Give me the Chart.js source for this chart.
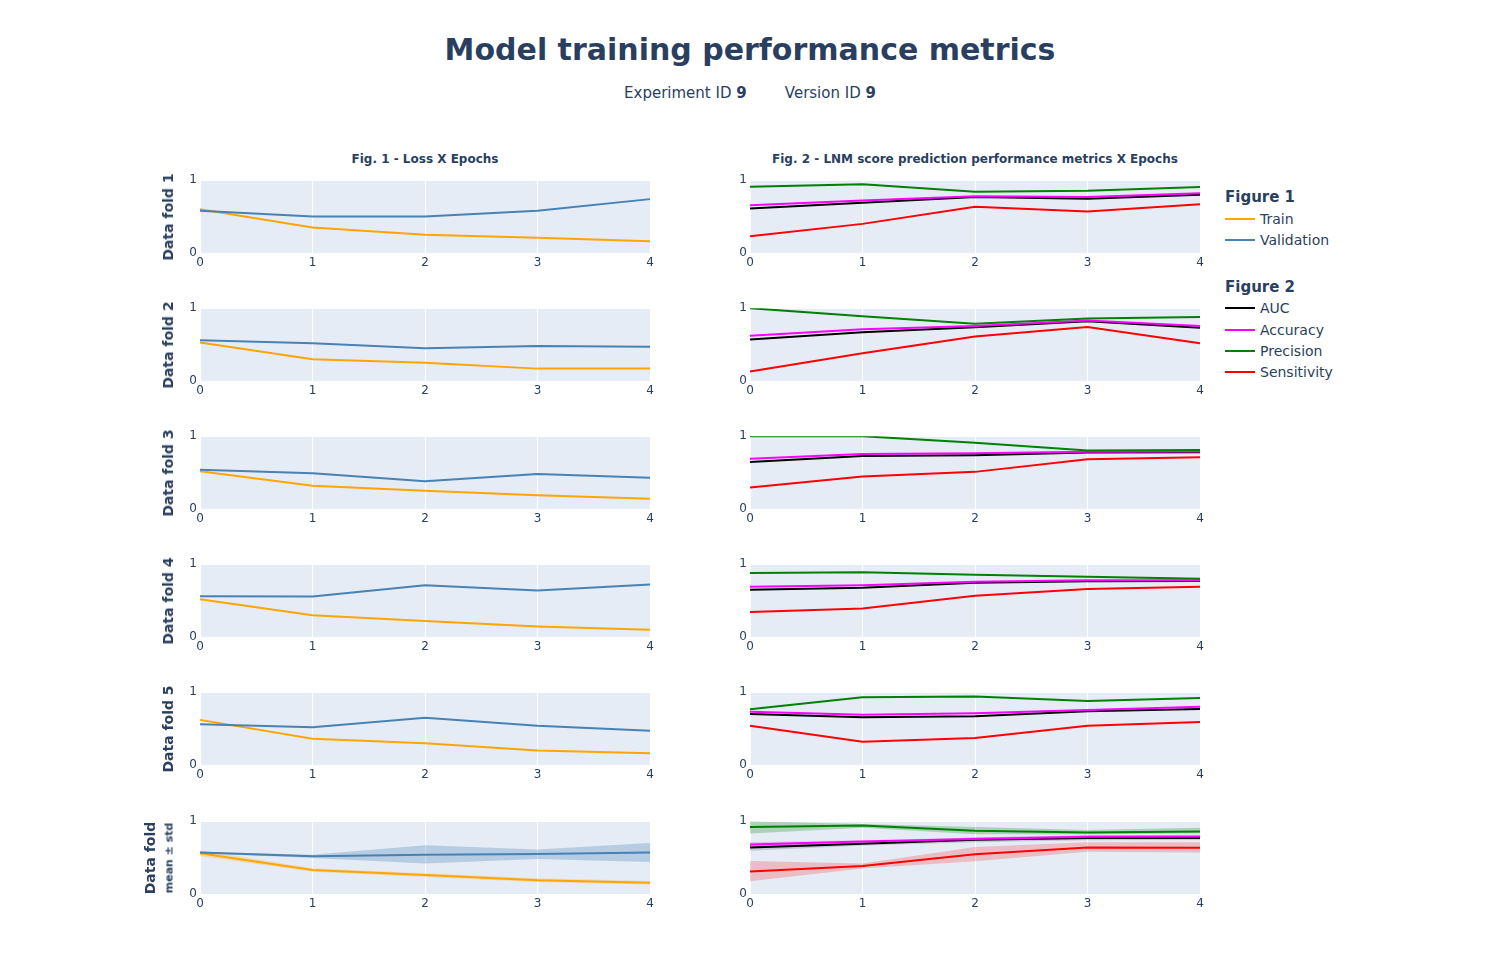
<!DOCTYPE html>
<html>
<head>
<meta charset="utf-8">
<script src="https://cdn.jsdelivr.net/npm/chart.js@4.4.1/dist/chart.umd.min.js"></script>
<style>
body { margin: 0; background: #fff; font-family: "DejaVu Sans", Verdana, sans-serif; color: #2a3f5f; }
#page { position: relative; width: 1500px; height: 975px; overflow: hidden; }
.abs { position: absolute; white-space: nowrap; }
.title { left: 0; width: 1500px; top: 32px; text-align: center; font-size: 30px; font-weight: bold; }
.subtitle { left: 0; width: 1500px; top: 84px; text-align: center; font-size: 15px; }
.coltitle { font-size: 12px; font-weight: bold; text-align: center; width: 450px; top: 152px; }
.ytitle { font-size: 14px; font-weight: bold; transform: translate(-50%, -50%) rotate(-90deg); }
.ysub { font-size: 11px; font-weight: bold; transform: translate(-50%, -50%) rotate(-90deg); }
.leghead { font-size: 15px; font-weight: bold; left: 1225px; }
.legitem { font-size: 14px; left: 1260px; }
.legline { position: absolute; left: 1225px; width: 30px; height: 2px; }
canvas { position: absolute; }
</style>
</head>
<body>
<div id="page">
  <div class="abs title">Model training performance metrics</div>
  <div class="abs subtitle">Experiment ID <b>9</b>&nbsp;&nbsp;&nbsp;&nbsp;&nbsp;&nbsp;&nbsp;&nbsp;Version ID <b>9</b></div>
  <div class="abs coltitle" style="left:200px">Fig. 1 - Loss X Epochs</div>
  <div class="abs coltitle" style="left:750px">Fig. 2 - LNM score prediction performance metrics X Epochs</div>
</div>

<script>
var epochs = ['0', '1', '2', '3', '4'];
var foldNames = ['Data fold 1', 'Data fold 2', 'Data fold 3', 'Data fold 4', 'Data fold 5'];

// Fig. 1 - loss per fold
var trainLoss = [
  [0.60, 0.35, 0.25, 0.21, 0.16],
  [0.53, 0.30, 0.25, 0.17, 0.17],
  [0.52, 0.32, 0.25, 0.19, 0.14],
  [0.52, 0.30, 0.22, 0.145, 0.10],
  [0.62, 0.36, 0.30, 0.20, 0.16]
];
var validationLoss = [
  [0.58, 0.50, 0.50, 0.58, 0.74],
  [0.56, 0.52, 0.45, 0.48, 0.47],
  [0.54, 0.49, 0.38, 0.48, 0.43],
  [0.56, 0.555, 0.71, 0.64, 0.72],
  [0.56, 0.52, 0.65, 0.54, 0.47]
];
var trainMean  = [0.56, 0.33, 0.26, 0.19, 0.155];
var trainUpper = [0.60, 0.355, 0.285, 0.215, 0.18];
var trainLower = [0.52, 0.305, 0.235, 0.165, 0.13];
var validMean  = [0.57, 0.52, 0.54, 0.55, 0.57];
var validUpper = [0.58, 0.54, 0.67, 0.61, 0.70];
var validLower = [0.56, 0.495, 0.42, 0.48, 0.44];

// Fig. 2 - metrics per fold
var auc = [
  [0.61, 0.69, 0.77, 0.745, 0.80],
  [0.57, 0.67, 0.74, 0.82, 0.73],
  [0.645, 0.727, 0.737, 0.777, 0.78],
  [0.65, 0.675, 0.745, 0.765, 0.77],
  [0.70, 0.655, 0.67, 0.74, 0.77]
];
var accuracy = [
  [0.655, 0.72, 0.78, 0.77, 0.82],
  [0.62, 0.71, 0.755, 0.83, 0.755],
  [0.69, 0.755, 0.765, 0.785, 0.79],
  [0.69, 0.71, 0.76, 0.78, 0.78],
  [0.73, 0.69, 0.71, 0.755, 0.80]
];
var precision = [
  [0.91, 0.945, 0.84, 0.855, 0.905],
  [1.0, 0.89, 0.785, 0.86, 0.88],
  [1.0, 1.0, 0.91, 0.805, 0.81],
  [0.88, 0.89, 0.855, 0.827, 0.80],
  [0.765, 0.93, 0.94, 0.88, 0.92]
];
var sensitivity = [
  [0.23, 0.40, 0.635, 0.57, 0.67],
  [0.13, 0.38, 0.61, 0.74, 0.52],
  [0.295, 0.445, 0.51, 0.685, 0.71],
  [0.345, 0.39, 0.565, 0.66, 0.69],
  [0.54, 0.32, 0.37, 0.54, 0.59]
];
var aucMean  = [0.64, 0.69, 0.745, 0.77, 0.77];
var aucUpper = [0.685, 0.715, 0.78, 0.80, 0.795];
var aucLower = [0.595, 0.665, 0.71, 0.74, 0.745];
var accMean  = [0.68, 0.72, 0.755, 0.785, 0.79];
var accUpper = [0.715, 0.74, 0.775, 0.81, 0.81];
var accLower = [0.645, 0.70, 0.735, 0.76, 0.77];
var precMean  = [0.92, 0.94, 0.87, 0.845, 0.86];
var precUpper = [1.0, 0.96, 0.92, 0.88, 0.91];
var precLower = [0.83, 0.91, 0.82, 0.82, 0.83];
var sensMean  = [0.31, 0.385, 0.545, 0.64, 0.635];
var sensUpper = [0.455, 0.42, 0.645, 0.71, 0.71];
var sensLower = [0.175, 0.35, 0.45, 0.58, 0.57];

var COLORS = { train: '#FFA500', valid: '#4682B4', auc: '#000000', acc: '#FF00FF', prec: '#008000', sens: '#FF0000' };
var BANDS = { train: 'rgba(255,165,0,0.25)', valid: 'rgba(70,130,180,0.3)', auc: 'rgba(0,0,0,0.15)',
              acc: 'rgba(255,0,255,0.2)', prec: 'rgba(0,128,0,0.25)', sens: 'rgba(255,0,0,0.2)' };

var rowTops = [180, 308, 436, 564, 692, 821];
var colLefts = [200, 750];
var PLOT_W = 450, PLOT_H = 73;
var PAD_L = 40, PAD_T = 10, PAD_R = 14, PAD_B = 22;

var bgPlugin = {
  id: 'plotBg',
  beforeDraw: function(chart) {
    var a = chart.chartArea, c = chart.ctx;
    c.save();
    c.fillStyle = '#E5ECF6';
    c.fillRect(a.left, a.top, a.right - a.left, a.bottom - a.top);
    c.restore();
  }
};

function line(data, color, order) {
  return { data: data, borderColor: color, borderWidth: 2, pointRadius: 0, tension: 0, fill: false, order: order };
}
function band(upper, lower, color) {
  return [
    { data: upper, borderWidth: 0, borderColor: 'rgba(0,0,0,0)', pointRadius: 0, tension: 0, fill: '+1', backgroundColor: color, order: 100 },
    { data: lower, borderWidth: 0, borderColor: 'rgba(0,0,0,0)', pointRadius: 0, tension: 0, fill: false, order: 100 }
  ];
}

function makeChart(row, col, datasets) {
  var canvas = document.createElement('canvas');
  var w = PLOT_W + PAD_L + PAD_R, h = PLOT_H + PAD_T + PAD_B;
  canvas.width = w; canvas.height = h;
  canvas.style.width = w + 'px'; canvas.style.height = h + 'px';
  canvas.style.left = (colLefts[col] - PAD_L) + 'px';
  canvas.style.top = (rowTops[row] - PAD_T) + 'px';
  document.getElementById('page').appendChild(canvas);

  new Chart(canvas, {
    type: 'line',
    data: { labels: epochs, datasets: datasets },
    options: {
      responsive: false,
      animation: false,
      layout: { padding: { left: 0, top: PAD_T, right: PAD_R, bottom: 0 } },
      plugins: { legend: { display: false }, tooltip: { enabled: false } },
      scales: {
        x: {
          offset: false,
          grid: { color: '#ffffff', lineWidth: 1, drawTicks: false },
          border: { display: false },
          ticks: { color: '#2a3f5f', font: { family: 'DejaVu Sans', size: 12 }, padding: 3, maxRotation: 0 },
          afterFit: function(s) { s.height = PAD_B; }
        },
        y: {
          min: 0, max: 1,
          grid: { color: '#ffffff', lineWidth: 1, drawTicks: false },
          border: { display: false },
          ticks: { stepSize: 1, color: '#2a3f5f', font: { family: 'DejaVu Sans', size: 12 }, padding: 3 },
          afterFit: function(s) { s.width = PAD_L; }
        }
      }
    },
    plugins: [bgPlugin]
  });
}

function addText(cls, text, x, y) {
  var d = document.createElement('div');
  d.className = 'abs ' + cls;
  d.textContent = text;
  d.style.left = x + 'px';
  d.style.top = y + 'px';
  document.getElementById('page').appendChild(d);
}

for (var r = 0; r < 5; r++) {
  makeChart(r, 0, [line(trainLoss[r], COLORS.train, 2), line(validationLoss[r], COLORS.valid, 1)]);
  makeChart(r, 1, [
    line(auc[r], COLORS.auc, 4), line(accuracy[r], COLORS.acc, 3),
    line(precision[r], COLORS.prec, 2), line(sensitivity[r], COLORS.sens, 1)
  ]);
  addText('ytitle', foldNames[r], 168, rowTops[r] + PLOT_H / 2);
}

makeChart(5, 0, [].concat(
  band(trainUpper, trainLower, BANDS.train),
  band(validUpper, validLower, BANDS.valid),
  [line(trainMean, COLORS.train, 2), line(validMean, COLORS.valid, 1)]
));
makeChart(5, 1, [].concat(
  band(aucUpper, aucLower, BANDS.auc),
  band(accUpper, accLower, BANDS.acc),
  band(precUpper, precLower, BANDS.prec),
  band(sensUpper, sensLower, BANDS.sens),
  [line(aucMean, COLORS.auc, 4), line(accMean, COLORS.acc, 3), line(precMean, COLORS.prec, 2), line(sensMean, COLORS.sens, 1)]
));
addText('ytitle', 'Data fold', 150, rowTops[5] + PLOT_H / 2);
addText('ysub', 'mean ± std', 169, rowTops[5] + PLOT_H / 2);

// legend
var legend = [
  { head: 'Figure 1', y: 197 },
  { label: 'Train', color: COLORS.train, y: 219 },
  { label: 'Validation', color: COLORS.valid, y: 240 },
  { head: 'Figure 2', y: 287 },
  { label: 'AUC', color: COLORS.auc, y: 308 },
  { label: 'Accuracy', color: COLORS.acc, y: 330 },
  { label: 'Precision', color: COLORS.prec, y: 351 },
  { label: 'Sensitivity', color: COLORS.sens, y: 372 }
];
var page = document.getElementById('page');
legend.forEach(function(it) {
  if (it.head) {
    addText('leghead', it.head, 1225, it.y - 9);
  } else {
    addText('legitem', it.label, 1260, it.y - 8);
    var ln = document.createElement('div');
    ln.className = 'legline';
    ln.style.top = (it.y - 1) + 'px';
    ln.style.background = it.color;
    page.appendChild(ln);
  }
});
</script>
</body>
</html>
